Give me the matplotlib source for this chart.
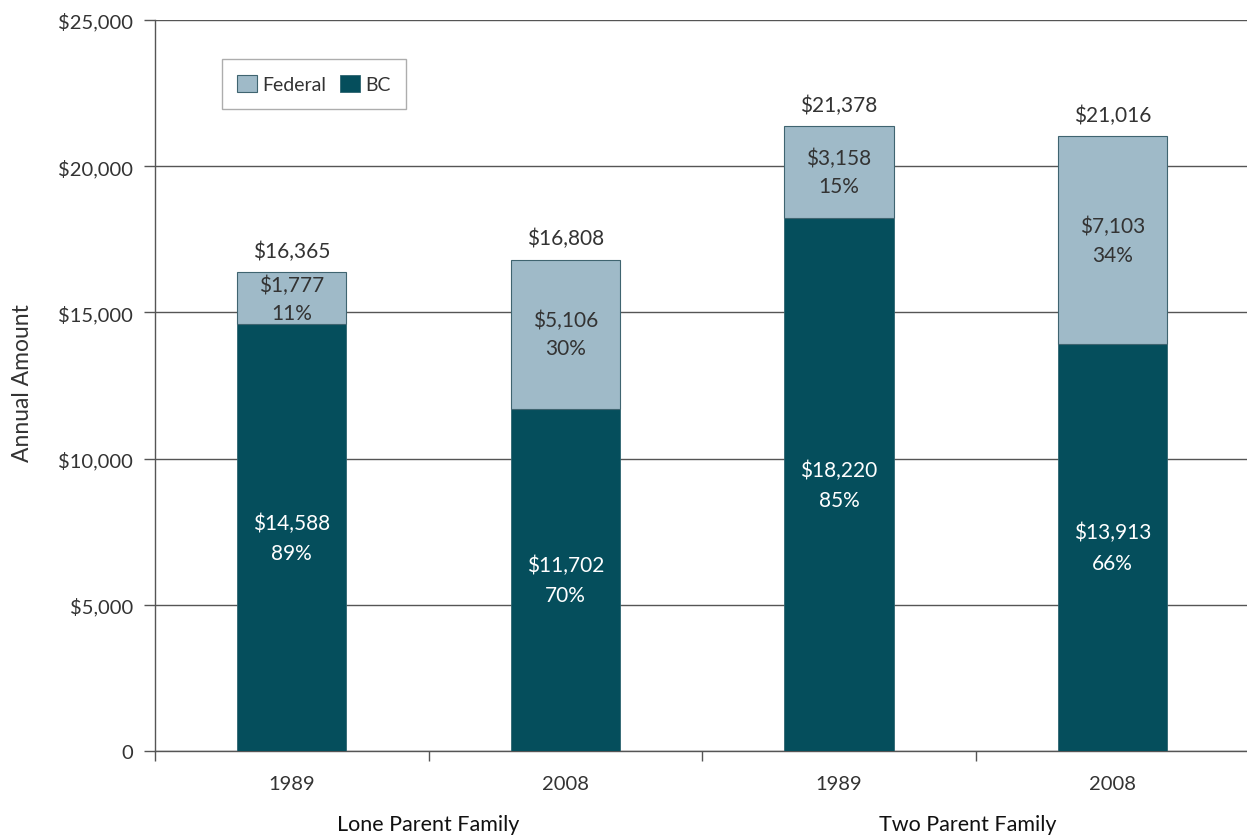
import matplotlib
matplotlib.use("Agg")
import matplotlib.pyplot as plt
import numpy as np

years = ["1989", "2008", "1989", "2008"]
groups = ["Lone Parent Family", "Two Parent Family"]
bc = [14588, 11702, 18220, 13913]
federal = [1777, 5106, 3158, 7103]
totals = [16365, 16808, 21378, 21016]
bc_pct = [89, 70, 85, 66]
fed_pct = [11, 30, 15, 34]
yticks = [0, 5000, 10000, 15000, 20000, 25000]
ytick_labels = ["0", "$5,000", "$10,000", "$15,000", "$20,000", "$25,000"]

plt.rcParams["font.family"] = ["Lato", "DejaVu Sans"]
txt = "#333333"
c_fed = "#9fbac8"
c_bc = "#054e5c"

fig = plt.figure(figsize=(12.47, 8.37), dpi=100)
ax = fig.add_axes([0.1243, 0.1016, 0.8775, 0.8733])

x = np.arange(len(years))
w = 0.40
ax.bar(x, bc, w, color=c_bc, edgecolor="#2d6470", linewidth=0.6, label="BC", zorder=3)
ax.bar(x, federal, w, bottom=bc, color=c_fed, edgecolor="#3f6470", linewidth=0.8,
       label="Federal", zorder=3)

for i in range(len(x)):
    ax.text(x[i], bc[i] / 2, f"${bc[i]:,}\n{bc_pct[i]}%", ha="center", va="center",
            color="white", fontsize=15, linespacing=1.65, zorder=4)
    ax.text(x[i], bc[i] + federal[i] / 2, f"${federal[i]:,}\n{fed_pct[i]}%", ha="center",
            va="center", color=txt, fontsize=15, linespacing=1.5, zorder=4)
    ax.text(x[i], totals[i] + 380, f"${totals[i]:,}", ha="center", va="bottom",
            color=txt, fontsize=15, zorder=4)

ax.set_xlim(-0.5, 3.5)
ax.set_ylim(0, 25000)
ax.set_yticks(yticks)
ax.set_yticklabels(ytick_labels)
ax.set_xticks(x)
ax.set_xticklabels(years)
ax.set_xticks(np.arange(-0.5, 4.0, 1.0), minor=True)
ax.tick_params(axis="x", which="major", length=0, pad=17, labelsize=14.5, labelcolor=txt)
ax.tick_params(axis="x", which="minor", length=7, color="#555555", width=1)
ax.tick_params(axis="y", length=8, color="#555555", width=1, pad=8, labelsize=14.5,
               labelcolor=txt)
ax.grid(axis="y", color="#555555", linewidth=1, zorder=0)
for s in ["top", "right"]:
    ax.spines[s].set_visible(False)
for s in ["left", "bottom"]:
    ax.spines[s].set_color("#555555")
    ax.spines[s].set_linewidth(1)

ax.text(0.5, -0.1, groups[0], transform=ax.get_xaxis_transform(), ha="center",
        va="center", fontsize=15.5, color="#111111")
ax.text(2.47, -0.1, groups[1], transform=ax.get_xaxis_transform(), ha="center",
        va="center", fontsize=15.5, color="#111111")
fig.text(0.018, 0.542, "Annual Amount", rotation=90, ha="center", va="center",
         fontsize=16.5, color=txt)

h, l = ax.get_legend_handles_labels()
leg = ax.legend(h[::-1], l[::-1], loc="upper left", bbox_to_anchor=(0.061, 0.946),
                ncol=2, frameon=True, fancybox=False, fontsize=14, handlelength=1.0,
                handleheight=1.0, handletextpad=0.3, columnspacing=0.7,
                borderpad=0.8, borderaxespad=0)
leg.get_frame().set_edgecolor("#999999")
leg.get_frame().set_linewidth(1)
for t in leg.get_texts():
    t.set_color(txt)

fig.savefig("out.png", dpi=100)
